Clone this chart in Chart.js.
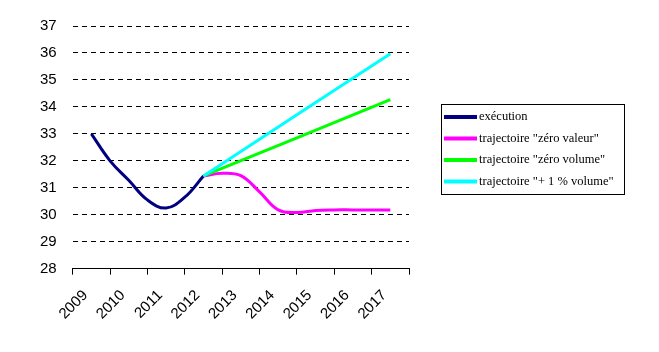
<!DOCTYPE html>
<html>
<head>
<meta charset="utf-8">
<script src="https://cdn.jsdelivr.net/npm/chart.js@4/dist/chart.umd.min.js"></script>
<style>
  html, body { margin:0; padding:0; background:#fff; }
  #wrap { position:relative; width:659px; height:352px; }
</style>
</head>
<body>
<div id="wrap"><canvas id="ch" width="659" height="352"></canvas></div>
<script>
// categories (year labels on the axis)
const YEARS = ['2009','2010','2011','2012','2013','2014','2015','2016','2017'];

// half-year positions
const EXEC_X = [2009, 2009.5, 2010, 2010.5, 2011, 2011.5, 2012];
const EXEC_Y = [33.0, 32.0, 31.28, 30.55, 30.25, 30.65, 31.44];

const ZVAL_X = [2012, 2012.5, 2013, 2013.5, 2014, 2014.5, 2015, 2015.5, 2016, 2016.5, 2017];
const ZVAL_Y = [31.44, 31.54, 31.45, 30.85, 30.18, 30.08, 30.16, 30.18, 30.18, 30.18, 30.18];

const ZVOL_X = [2012, 2017];
const ZVOL_Y = [31.44, 34.27];

const PLUS1_X = [2012, 2017];
const PLUS1_Y = [31.44, 35.97];

const NAMES  = ['exécution', 'trajectoire "zéro valeur"', 'trajectoire "zéro volume"', 'trajectoire "+ 1 % volume"'];
const COLORS = ['#000080', '#ff00ff', '#00ff00', '#00ffff'];

const pts = (xs, ys) => xs.map((x, i) => ({ x, y: ys[i] }));

// boxed legend on the right, drawn by hand
const boxLegend = {
  id: 'boxLegend',
  afterDraw(chart) {
    const c = chart.ctx;
    const x0 = 441, y0 = 104, w = 183, h = 90;
    c.save();
    c.strokeStyle = '#000'; c.lineWidth = 1;
    c.strokeRect(x0 + 0.5, y0 + 0.5, w, h);
    c.font = '12.5px "Liberation Serif", "Times New Roman", serif';
    c.textBaseline = 'middle';
    c.fillStyle = '#000';
    chart.data.datasets.forEach((ds, i) => {
      const y = 117 + i * 21.5;
      c.strokeStyle = ds.borderColor; c.lineWidth = 4;
      c.beginPath(); c.moveTo(444, y); c.lineTo(477, y); c.stroke();
      c.fillText(ds.label, 479, y);
    });
    c.restore();
  }
};

new Chart(document.getElementById('ch'), {
  type: 'line',
  data: {
    labels: YEARS,
    datasets: [
      { label: NAMES[0], data: pts(EXEC_X, EXEC_Y) },
      { label: NAMES[1], data: pts(ZVAL_X, ZVAL_Y) },
      { label: NAMES[2], data: pts(ZVOL_X, ZVOL_Y) },
      { label: NAMES[3], data: pts(PLUS1_X, PLUS1_Y) },
    ].map((d, i) => ({ ...d, xAxisID: 'xv', borderColor: COLORS[i], backgroundColor: COLORS[i],
        borderWidth: 3, pointRadius: 0, tension: 0.4, fill: false, order: 4 - i })),
  },
  options: {
    responsive: false,
    animation: false,
    layout: { padding: { top: 26, right: 250, bottom: 17, left: 24 } },
    plugins: { legend: { display: false }, tooltip: { enabled: false } },
    scales: {
      x: {
        type: 'category', offset: true,
        grid: { drawOnChartArea: false, tickLength: 6, color: '#000', offset: true },
        border: { display: true, color: '#000', width: 1 },
        ticks: { color: '#000', maxRotation: 45, minRotation: 45, padding: 12, labelOffset: -6,
                 font: { family: '"Liberation Sans", Arial, sans-serif', size: 15 } },
      },
      xv: { type: 'linear', display: false, min: 2008.5, max: 2017.5 },
      y: {
        min: 28, max: 37,
        ticks: { stepSize: 1, color: '#000', padding: 16,
                 font: { family: '"Liberation Sans", Arial, sans-serif', size: 15 } },
        grid: { color: '#000', lineWidth: 1, drawTicks: false },
        border: { display: false, dash: [5, 4] },
      },
    },
  },
  plugins: [boxLegend],
});
</script>
</body>
</html>
